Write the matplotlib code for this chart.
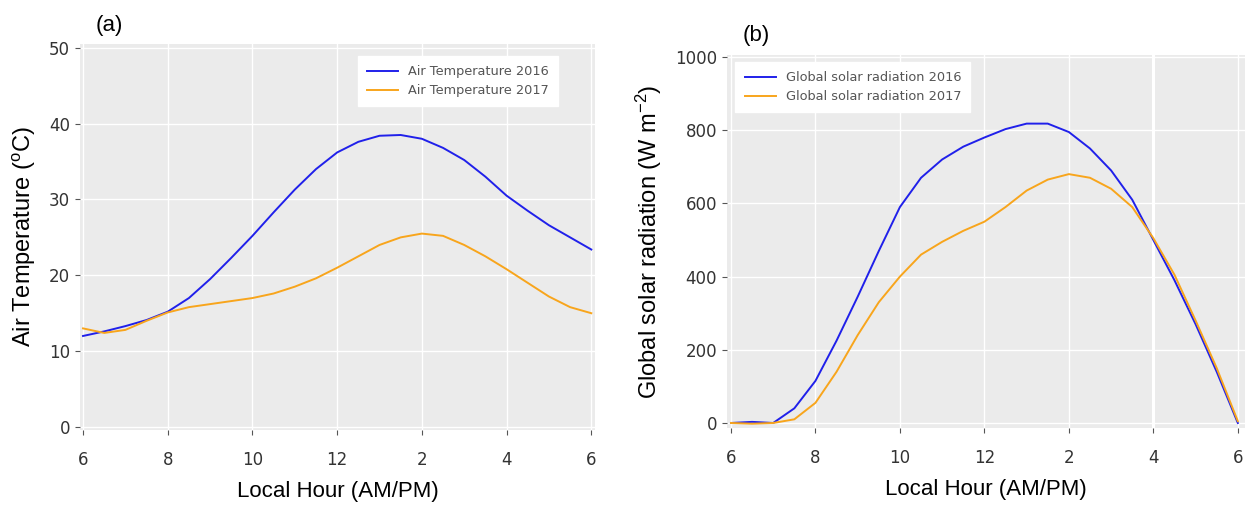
import numpy as np
import matplotlib.pyplot as plt

# hours from 6 AM to 6 PM
hours = [6, 6.5, 7, 7.5, 8, 8.5, 9, 9.5, 10, 10.5, 11, 11.5, 12,
         12.5, 13, 13.5, 14, 14.5, 15, 15.5, 16, 16.5, 17, 17.5, 18]
tick_pos = [6, 8, 10, 12, 14, 16, 18]
tick_lbl = ['6', '8', '10', '12', '2', '4', '6']

air_2016 = [12.0, 12.6, 13.3, 14.1, 15.2, 17.0, 19.5, 22.3, 25.2, 28.3, 31.3, 34.0, 36.2,
            37.6, 38.4, 38.5, 38.0, 36.8, 35.2, 33.0, 30.5, 28.5, 26.6, 25.0, 23.4]
air_2017 = [13.0, 12.4, 12.8, 14.0, 15.1, 15.8, 16.2, 16.6, 17.0, 17.6, 18.5, 19.6, 21.0,
            22.5, 24.0, 25.0, 25.5, 25.2, 24.0, 22.5, 20.8, 19.0, 17.2, 15.8, 15.0]

rad_2016 = [0, 3, 0, 40, 115, 225, 345, 470, 590, 670, 720, 755, 780,
            803, 818, 818, 795, 750, 690, 610, 500, 390, 270, 140, 0]
rad_2017 = [0, -2, 0, 10, 55, 140, 240, 330, 400, 460, 495, 525, 550,
            590, 635, 665, 680, 670, 640, 590, 505, 405, 280, 150, 5]

BLUE = '#2020ea'
ORANGE = '#f8a51c'
BG = '#ebebeb'

plt.rcParams['mathtext.default'] = 'regular'

fig = plt.figure(figsize=(12.45, 5.05), dpi=100)
ax1 = fig.add_axes([0.0643, 0.1485, 0.4137, 0.7644])
ax2 = fig.add_axes([0.5839, 0.1525, 0.4161, 0.7386])


def style(ax):
    ax.set_facecolor(BG)
    for s in ax.spines.values():
        s.set_visible(False)
    ax.grid(True, color='white', linewidth=1.0)
    ax.set_axisbelow(True)
    ax.set_xticks(tick_pos)
    ax.set_xticklabels(tick_lbl)
    ax.tick_params(axis='both', colors='#555555', labelcolor='#333333',
                   labelsize=12, length=3.6, width=0.8)
    ax.tick_params(axis='x', pad=11.5)
    ax.set_xlabel('Local Hour (AM/PM)', fontsize=16, family='Liberation Sans',
                  labelpad=9)


ax1.plot(hours, air_2016, color=BLUE, lw=1.4, label='Air Temperature 2016')
ax1.plot(hours, air_2017, color=ORANGE, lw=1.4, label='Air Temperature 2017')
style(ax1)
ax1.set_xlim(5.93, 18.09)
ax1.set_ylim(-0.4, 50.5)
ax1.set_yticks([0, 10, 20, 30, 40, 50])
ax1.set_ylabel('Air Temperature ($^{o}$C)', fontsize=17,
               family='Liberation Sans', labelpad=8)
leg1 = ax1.legend(loc='upper right', bbox_to_anchor=(0.94, 0.985),
                  frameon=True, fancybox=False, framealpha=1, edgecolor='white',
                  fontsize=9.3, handlelength=2.4, borderpad=0.7, labelspacing=0.45)
for t in leg1.get_texts():
    t.set_color('#555555')
ax1.text(0.03, 1.02, '(a)', transform=ax1.transAxes, fontsize=16,
         family='Liberation Sans', va='bottom')

ax2.plot(hours, rad_2016, color=BLUE, lw=1.4, label='Global solar radiation 2016')
ax2.plot(hours, rad_2017, color=ORANGE, lw=1.4, label='Global solar radiation 2017')
style(ax2)
ax2.set_xlim(5.905, 18.17)
ax2.set_ylim(-13.7, 1005.5)
ax2.set_yticks([0, 200, 400, 600, 800, 1000])
ax2.set_ylabel('Global solar radiation (W m$^{-2}$)', fontsize=17,
               family='Liberation Sans', labelpad=8)
ax2.get_xgridlines()[5].set_linewidth(2.2)
leg2 = ax2.legend(loc='upper left', bbox_to_anchor=(0.004, 0.998),
                  frameon=True, fancybox=False, framealpha=1, edgecolor='white',
                  fontsize=9.3, handlelength=2.4, borderpad=0.7, labelspacing=0.45)
for t in leg2.get_texts():
    t.set_color('#555555')
ax2.text(0.03, 1.025, '(b)', transform=ax2.transAxes, fontsize=16,
         family='Liberation Sans', va='bottom')

fig.savefig('out.png', dpi=100)
